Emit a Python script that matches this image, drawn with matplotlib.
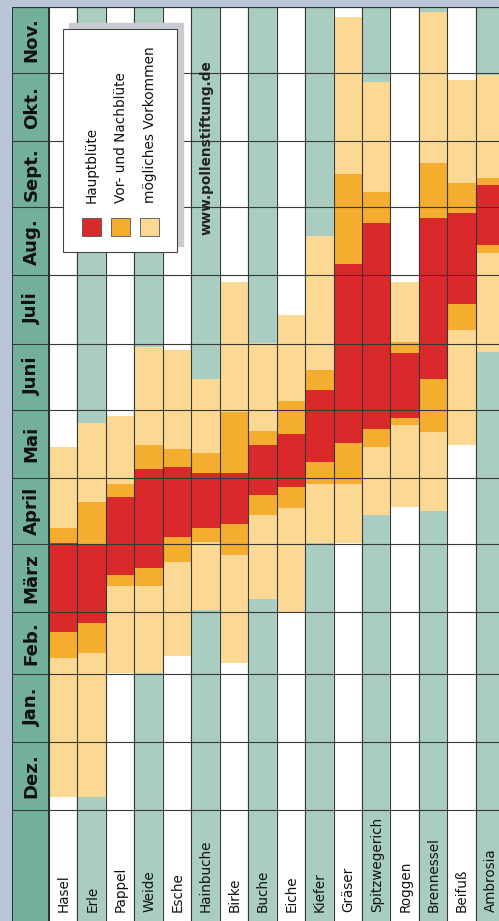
import matplotlib
matplotlib.use('Agg')
import matplotlib.pyplot as plt
from matplotlib import font_manager
from matplotlib.patches import Rectangle
import numpy as np

# Pollenflugkalender (gedreht): Monate von unten (Dez.) nach oben (Nov.)
plants = ['Hasel', 'Erle', 'Pappel', 'Weide', 'Esche', 'Hainbuche', 'Birke', 'Buche',
          'Eiche', 'Kiefer', 'Gräser', 'Spitzwegerich', 'Roggen', 'Brennessel', 'Beifuß', 'Ambrosia']
months = ['Dez.', 'Jan.', 'Feb.', 'März', 'April', 'Mai', 'Juni', 'Juli', 'Aug.', 'Sept.', 'Okt.', 'Nov.']
month_days = [31, 31, 28, 31, 30, 31, 30, 31, 31, 30, 31, 30]

# Tage ab 1. Dezember
light_start = [6.0, 6.0, 62.1, 62.1, 70.0, 90.9, 67.0, 95.9, 90.1, 121.2, 121.2, 134.1, 137.9, 136.0, 165.9, 208.3]
pre_start   = [69.0, 71.2, 102.0, 102.0, 112.9, 122.0, 115.9, 134.2, 137.4, 148.0, 148.0, 165.1, 175.0, 172.0, 218.2, 253.0]
main_start  = [81.0, 84.9, 107.0, 109.9, 124.0, 128.0, 130.0, 143.3, 147.0, 158.0, 167.0, 173.0, 178.0, 195.9, 230.0, 256.8]
main_end    = [121.2, 120.5, 142.1, 154.9, 156.0, 153.0, 153.0, 166.0, 171.0, 190.8, 248.2, 267.0, 207.9, 268.9, 271.2, 284.1]
post_end    = [128.0, 140.1, 148.1, 166.0, 163.9, 162.1, 181.0, 172.1, 186.0, 200.0, 289.1, 281.0, 212.9, 293.9, 284.9, 287.1]
light_end   = [165.1, 176.0, 179.1, 210.6, 209.1, 195.9, 240.1, 212.1, 225.0, 260.9, 360.3, 331.0, 240.1, 362.9, 331.8, 334.1]

legend_labels = ['Hauptblüte', 'Vor- und Nachblüte', 'mögliches Vorkommen']

BG = '#b9c5d6'
HEAD = '#72af9c'
COLG = '#a9cdc1'
RED = '#d9292a'
ORANGE = '#f4ad2f'
LIGHT = '#fbd994'
LINE = '#383838'

# schmale Schrift, falls vorhanden
available = {f.name for f in font_manager.fontManager.ttflist}
FONT = 'Liberation Sans Narrow' if 'Liberation Sans Narrow' in available else 'DejaVu Sans'
plt.rcParams['font.family'] = [FONT, 'DejaVu Sans']

W, H = 499, 921
fig = plt.figure(figsize=(W / 100, H / 100), dpi=100, facecolor=BG)

col_w = 28.45
px_day = 2.2
left_px, top_px, head_px = 12, 7, 37
right_px = left_px + head_px + 16 * col_w
head_w = head_px / col_w
ylo = -(H - 810) / px_day
total = sum(month_days)

ax = fig.add_axes([left_px / W, 0, (right_px - left_px) / W, (H - top_px) / H])
ax.set_xlim(-head_w, 16)
ax.set_ylim(ylo, total)
ax.axis('off')

# Hintergrund: Kopfspalte und abwechselnde Spalten
ax.add_patch(Rectangle((-head_w, ylo), head_w, total - ylo, color=HEAD, zorder=0))
for i in range(len(plants)):
    ax.add_patch(Rectangle((i, ylo), 1, total - ylo, color=(COLG if i % 2 else 'white'), zorder=0))

x = np.arange(len(plants))
ls, le = np.array(light_start), np.array(light_end)
ps, pe = np.array(pre_start), np.array(post_end)
ms, me = np.array(main_start), np.array(main_end)
ax.bar(x, le - ls, bottom=ls, width=1, align='edge', color=LIGHT, zorder=1)
ax.bar(x, pe - ps, bottom=ps, width=1, align='edge', color=ORANGE, zorder=2)
ax.bar(x, me - ms, bottom=ms, width=1, align='edge', color=RED, zorder=3)

# Gitter
bounds = np.concatenate([[0], np.cumsum(month_days)])
ax.hlines(bounds[:-1], -head_w, 16, color=LINE, lw=0.8, zorder=4)
ax.vlines(np.arange(0, 17), ylo, total, color=LINE, lw=0.8, zorder=4)
ax.hlines(total, -head_w, 16, color='#26332f', lw=1.6, zorder=5)
ax.vlines([-head_w, 0], ylo, total, color='#26332f', lw=1.4, zorder=5)

mids = (bounds[:-1] + bounds[1:]) / 2
month_txt = [ax.text(-head_w / 2 + 0.04, y, m, rotation=90, ha='center', va='center',
                     fontsize=13, fontweight='bold', color='#111111', zorder=6)
             for m, y in zip(months, mids)]

plant_txt = [ax.text(i + 0.52, ylo + 9 / px_day, p, rotation=90, ha='center', va='bottom',
                     fontsize=10, color='#111111', zorder=6)
             for i, p in enumerate(plants)]

url = ax.text(5.55, (810 - 147.5) / px_day, 'www.pollenstiftung.de', rotation=90, ha='center',
              va='center', fontsize=10, fontweight='bold', color='#222222', zorder=6)

# Legende in Pixelkoordinaten
ov = fig.add_axes([0, 0, 1, 1], zorder=5)
ov.set_xlim(0, W)
ov.set_ylim(H, 0)
ov.axis('off')
ov.patch.set_alpha(0)
ov.add_patch(Rectangle((69.5, 23.3), 113.4, 223, color='#c9cdd2', zorder=1))
ov.add_patch(Rectangle((63.3, 29.3), 113.4, 223, fc='white', ec='#444444', lw=0.8, zorder=2))
leg_txt = []
for k, (lab, c) in enumerate(zip(legend_labels, [RED, ORANGE, LIGHT])):
    xc = 91.5 + k * 29
    ov.add_patch(Rectangle((xc - 9.5, 218.3), 19, 17.5, fc=c, ec='#555555', lw=0.6, zorder=3))
    leg_txt.append(ov.text(xc + 0.3, 203, lab, rotation=90, ha='center', va='bottom',
                           fontsize=10, color='#111111', zorder=3))

# Schriftgroessen an die Laengen im Original anpassen (Textlaenge in Pixeln)
fig.canvas.draw()
rend = fig.canvas.get_renderer()
for group, ref, target in [(month_txt, 4, 48), (plant_txt, 11, 95), ([url], 0, 175), (leg_txt, 2, 155)]:
    f = target / group[ref].get_window_extent(rend).height
    for t in group:
        t.set_fontsize(t.get_fontsize() * f)

fig.savefig('out.png', dpi=100, facecolor=BG)
